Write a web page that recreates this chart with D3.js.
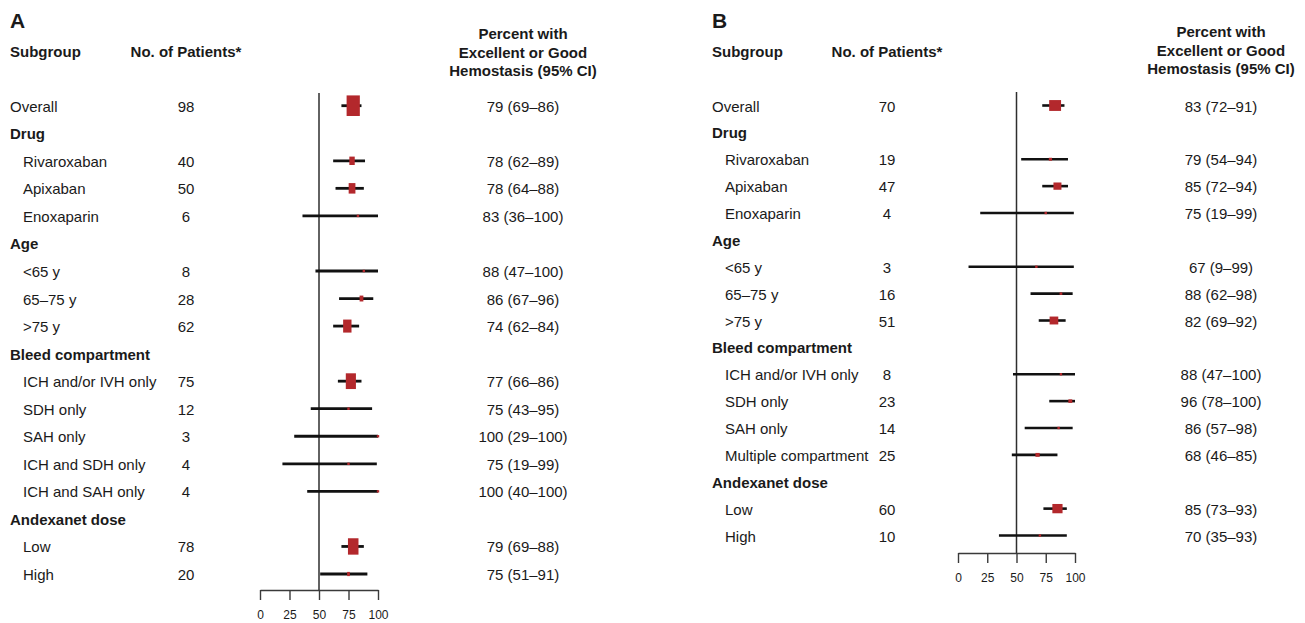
<!DOCTYPE html>
<html>
<head>
<meta charset="utf-8">
<script src="https://cdn.jsdelivr.net/npm/d3@7"></script>
<style>
  html, body { margin: 0; padding: 0; background: #fff; }
  svg text { font-family: "Liberation Sans", Arial, Helvetica, sans-serif; fill: #1a1a1a; }
</style>
</head>
<body>
<svg id="chart" width="1305" height="623"></svg>
<script>
// ---- Panel A: patients evaluable for hemostatic efficacy ----
const subgroupsA = ["Overall", "Drug", "Rivaroxaban", "Apixaban", "Enoxaparin", "Age", "<65 y", "65–75 y", ">75 y",
  "Bleed compartment", "ICH and/or IVH only", "SDH only", "SAH only", "ICH and SDH only", "ICH and SAH only",
  "Andexanet dose", "Low", "High"];
const patientsA = [98, null, 40, 50, 6, null, 8, 28, 62, null, 75, 12, 3, 4, 4, null, 78, 20];
const percentA  = [79, null, 78, 78, 83, null, 88, 86, 74, null, 77, 75, 100, 75, 100, null, 79, 75];
const lowerA    = [69, null, 62, 64, 36, null, 47, 67, 62, null, 66, 43, 29, 19, 40, null, 69, 51];
const upperA    = [86, null, 89, 88, 100, null, 100, 96, 84, null, 86, 95, 100, 99, 100, null, 88, 91];

// ---- Panel B ----
const subgroupsB = ["Overall", "Drug", "Rivaroxaban", "Apixaban", "Enoxaparin", "Age", "<65 y", "65–75 y", ">75 y",
  "Bleed compartment", "ICH and/or IVH only", "SDH only", "SAH only", "Multiple compartment",
  "Andexanet dose", "Low", "High"];
const patientsB = [70, null, 19, 47, 4, null, 3, 16, 51, null, 8, 23, 14, 25, null, 60, 10];
const percentB  = [83, null, 79, 85, 75, null, 67, 88, 82, null, 88, 96, 86, 68, null, 85, 70];
const lowerB    = [72, null, 54, 72, 19, null, 9, 62, 69, null, 47, 78, 57, 46, null, 73, 35];
const upperB    = [91, null, 94, 94, 99, null, 99, 98, 92, null, 100, 100, 98, 85, null, 93, 93];

const axisTicks = [0, 25, 50, 75, 100];
const referenceValue = 50;

const svg = d3.select("#chart");
const RED = "#b3282c";

function drawPanel(cfg) {
  const g = svg.append("g");
  const n = cfg.labels.length;

  const x = d3.scaleLinear().domain([0, 100]).range([cfg.x0, cfg.x1]);
  const y = d3.scaleLinear().domain([0, n - 1]).range([cfg.yFirst, cfg.yLast]);
  const boxH = d3.scaleLinear().domain([0, 100]).range([0, cfg.boxH]);
  const boxW = d3.scaleLinear().domain([0, 100]).range([0, cfg.boxW]);

  // panel letter
  g.append("text").attr("x", cfg.textX).attr("y", cfg.letterY)
    .attr("font-size", 21).attr("font-weight", "bold").text(cfg.letter);

  // column headers
  g.append("text").attr("x", cfg.textX).attr("y", 57)
    .attr("font-size", 15).attr("font-weight", "bold").text("Subgroup");
  g.append("text").attr("x", cfg.nX).attr("y", 57).attr("text-anchor", "middle")
    .attr("font-size", 15).attr("font-weight", "bold").text("No. of Patients*");
  ["Percent with", "Excellent or Good", "Hemostasis (95% CI)"].forEach((t, i) => {
    g.append("text").attr("x", cfg.pctX).attr("y", cfg.pctY0 + i * 18.5).attr("text-anchor", "middle")
      .attr("font-size", 15).attr("font-weight", "bold").text(t);
  });

  const rows = d3.range(n).map(i => ({
    label: cfg.labels[i], n: cfg.n[i], est: cfg.est[i], lo: cfg.lo[i], hi: cfg.hi[i], i
  }));

  // subgroup labels
  g.selectAll("text.lab").data(rows).join("text")
    .attr("class", "lab")
    .attr("x", d => (d.n === null || d.i === 0) ? cfg.textX : cfg.textX + 13)
    .attr("y", d => y(d.i) + 6)
    .attr("font-size", 15)
    .attr("font-weight", d => d.n === null ? "bold" : "normal")
    .text(d => d.label);

  const data = rows.filter(d => d.n !== null);

  // patient counts
  g.selectAll("text.cnt").data(data).join("text")
    .attr("class", "cnt").attr("x", cfg.nX).attr("y", d => y(d.i) + 6)
    .attr("text-anchor", "middle").attr("font-size", 15).text(d => d.n);

  // estimates with CI
  g.selectAll("text.pct").data(data).join("text")
    .attr("class", "pct").attr("x", cfg.pctX).attr("y", d => y(d.i) + 6)
    .attr("text-anchor", "middle").attr("font-size", 15)
    .text(d => `${d.est} (${d.lo}–${d.hi})`);

  // axis
  const axisG = g.append("g").attr("transform", `translate(0,${cfg.axisY})`)
    .call(d3.axisBottom(x).tickValues(axisTicks).tickSize(10).tickSizeOuter(0).tickPadding(10));
  axisG.select(".domain").attr("stroke", "#3a3a3a").attr("stroke-width", 1.4);
  axisG.selectAll(".tick line").attr("stroke", "#3a3a3a").attr("stroke-width", 1.4);
  axisG.selectAll(".tick text").attr("font-size", 12).attr("font-family", "Liberation Sans, Arial, sans-serif")
    .attr("fill", "#1a1a1a");

  // reference line
  g.append("line")
    .attr("x1", x(referenceValue)).attr("x2", x(referenceValue))
    .attr("y1", cfg.refTop).attr("y2", cfg.axisY)
    .attr("stroke", "#2e2e2e").attr("stroke-width", 1.5);

  // confidence intervals
  g.selectAll("line.ci").data(data).join("line")
    .attr("class", "ci")
    .attr("x1", d => x(d.lo)).attr("x2", d => x(d.hi))
    .attr("y1", d => y(d.i)).attr("y2", d => y(d.i))
    .attr("stroke", "#111").attr("stroke-width", cfg.ciWidth);

  // point estimates, sized by number of patients
  g.selectAll("rect.pt").data(data).join("rect")
    .attr("class", "pt")
    .attr("x", d => x(d.est) - Math.max(2.4, boxW(d.n)) / 2)
    .attr("y", d => y(d.i) - Math.max(2.4, boxH(d.n)) / 2)
    .attr("width", d => Math.max(2.4, boxW(d.n)))
    .attr("height", d => Math.max(2.4, boxH(d.n)))
    .attr("fill", RED);
}

drawPanel({
  letter: "A", labels: subgroupsA, n: patientsA, est: percentA, lo: lowerA, hi: upperA,
  textX: 10, letterY: 28, nX: 186, pctX: 523, pctY0: 39,
  x0: 260, x1: 378, yFirst: 105.7, yLast: 574, axisY: 590, refTop: 93,
  boxH: 21, boxW: 13.5, ciWidth: 2.8
});

drawPanel({
  letter: "B", labels: subgroupsB, n: patientsB, est: percentB, lo: lowerB, hi: upperB,
  textX: 712, letterY: 28, nX: 887, pctX: 1221, pctY0: 37,
  x0: 958, x1: 1075, yFirst: 105.5, yLast: 535.5, axisY: 553, refTop: 92,
  boxH: 15.5, boxW: 17, ciWidth: 2.6
});
</script>
</body>
</html>
